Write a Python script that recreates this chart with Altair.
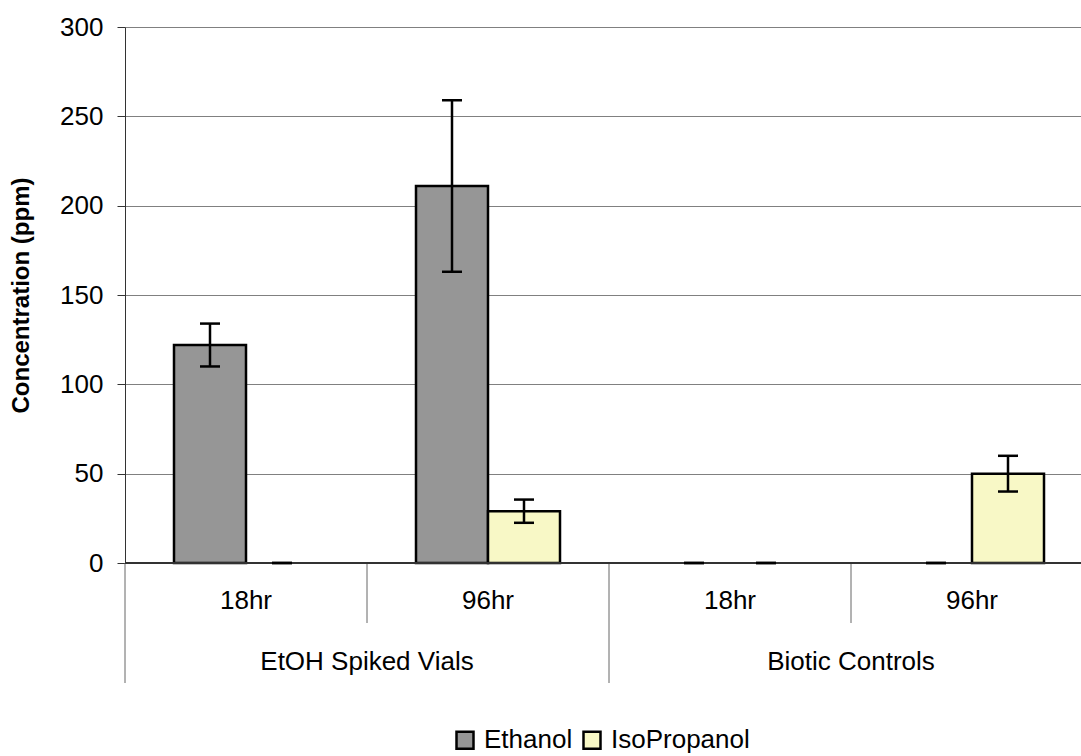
import altair as alt
import pandas as pd

# Data: concentrations (ppm) with error half-widths
groups = ["EtOH Spiked Vials", "EtOH Spiked Vials", "Biotic Controls", "Biotic Controls"]
times = ["18hr", "96hr", "18hr", "96hr"]
series = ["Ethanol", "IsoPropanol"]
ethanol = [122, 211, 0, 0]
ethanol_err = [12, 48, 0, 0]
isopropanol = [0, 29, 0, 50]
isopropanol_err = [0, 6.5, 0, 10]
y_ticks = [0, 50, 100, 150, 200, 250, 300]

FONT = "Liberation Sans"
W, H = 956, 536          # plot area
STEP = 242               # pixels per category
BAR = 72 / STEP          # bar width in category units
X_MAX = W / STEP

rows = []
for i, t in enumerate(times):
    for s, vals, errs in ((series[0], ethanol, ethanol_err),
                          (series[1], isopropanol, isopropanol_err)):
        x0 = i + 0.5 - BAR if s == series[0] else i + 0.5
        v, e = vals[i], errs[i]
        rows.append(dict(cat=i, time=t, series=s, x0=x0, x1=x0 + BAR,
                         xc=x0 + BAR / 2, value=v, lo=v - e, hi=v + e))
df = pd.DataFrame(rows)
caps = df.melt(id_vars=["xc", "series"], value_vars=["lo", "hi"], value_name="cap")

cats = pd.DataFrame({"time": times, "xc": [i + 0.5 for i in range(len(times))]})
grp_names = list(dict.fromkeys(groups))
grp = pd.DataFrame({
    "group": grp_names,
    "xc": [sum(i + 0.5 for i, g in enumerate(groups) if g == n) / groups.count(n)
           for n in grp_names],
})
short_sep = pd.DataFrame({"b": [i for i in range(1, len(groups)) if groups[i] == groups[i - 1]]})
long_sep = pd.DataFrame({"b": [0] + [i for i in range(1, len(groups)) if groups[i] != groups[i - 1]]
                         + [len(groups)]})

xs = alt.Scale(domain=[0, X_MAX], nice=False, zero=False)
ys = alt.Scale(domain=[0, 300], nice=False)

bars = alt.Chart(df[df.value > 0]).mark_bar(stroke="black", strokeWidth=2.5).encode(
    x=alt.X("x0:Q", scale=xs, axis=None),
    x2="x1:Q",
    y=alt.Y("value:Q", scale=ys, axis=alt.Axis(
        values=y_ticks, grid=True, gridColor="#808080", gridWidth=1,
        domainColor="#333333", tickColor="#333333", tickSize=8,
        labelFont=FONT, labelFontSize=26, labelColor="black", labelPadding=14,
        title="Concentration (ppm)", titleFont=FONT, titleFontSize=24,
        titleFontWeight="bold", titleColor="black", titlePadding=26)),
    y2=alt.datum(0),
    color=alt.Color("series:N", scale=alt.Scale(domain=series, range=["#969696", "#F8F8C6"]),
                    legend=alt.Legend(orient="none", legendX=327, legendY=700,
                                      direction="horizontal", title=None,
                                      symbolType="square", symbolSize=289,
                                      symbolStrokeColor="black", symbolStrokeWidth=2.5,
                                      symbolOpacity=1,
                                      labelFont=FONT, labelFontSize=26, labelColor="black",
                                      labelOffset=6, columnPadding=5, padding=0)),
)

baseline = alt.Chart(df).mark_rule(color="#333333", strokeWidth=1).encode(y=alt.datum(0))

err = alt.Chart(df).mark_rule(color="black", strokeWidth=2.5).encode(
    x=alt.X("xc:Q", scale=xs), y=alt.Y("lo:Q", scale=ys), y2="hi:Q")

cap_marks = alt.Chart(caps).mark_tick(orient="horizontal", size=20, thickness=2.5,
                                      color="black", opacity=1).encode(
    x=alt.X("xc:Q", scale=xs), y=alt.Y("cap:Q", scale=ys))

time_labels = alt.Chart(cats).mark_text(font=FONT, fontSize=26, color="black",
                                         baseline="middle").encode(
    x=alt.X("xc:Q", scale=xs), y=alt.value(H + 38), text="time:N")

group_labels = alt.Chart(grp).mark_text(font=FONT, fontSize=26, color="black",
                                         baseline="middle").encode(
    x=alt.X("xc:Q", scale=xs), y=alt.value(H + 99), text="group:N")

short_lines = alt.Chart(short_sep).mark_rule(color="#666666", strokeWidth=1).encode(
    x=alt.X("b:Q", scale=xs), y=alt.value(H), y2=alt.value(H + 60))

long_lines = alt.Chart(long_sep).mark_rule(color="#666666", strokeWidth=1).encode(
    x=alt.X("b:Q", scale=xs), y=alt.value(H), y2=alt.value(H + 120))

chart = alt.layer(
    bars, short_lines, long_lines, baseline, err, cap_marks, time_labels, group_labels
).properties(
    width=W, height=H,
    autosize=alt.AutoSizeParams(type="none"),
    padding={"left": 125, "top": 27, "right": 0, "bottom": 190},
    background="white",
).configure_view(stroke=None)

chart.save("out.html", embed_options={"renderer": "svg", "actions": False})
